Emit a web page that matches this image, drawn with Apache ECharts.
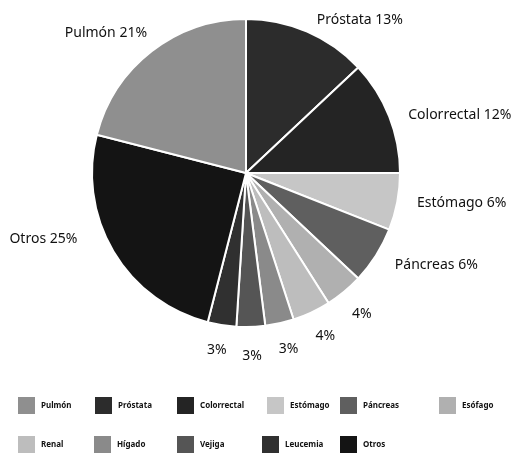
<!DOCTYPE html>
<html>
<head>
<meta charset="utf-8">
<script src="https://cdn.jsdelivr.net/npm/echarts@6/dist/echarts.min.js"></script>
<style>
html,body{margin:0;padding:0;background:#fff;}
#c{width:511px;height:453px;}
</style>
</head>
<body>
<div id="c"></div>
<script>
// Data
var categories = ['Próstata','Colorrectal','Estómago','Páncreas','Esófago','Renal','Hígado','Vejiga','Leucemia','Otros','Pulmón'];
var values = [13, 12, 6, 6, 4, 4, 3, 3, 3, 25, 21];
var legendOrder = ['Pulmón','Próstata','Colorrectal','Estómago','Páncreas','Esófago','Renal','Hígado','Vejiga','Leucemia','Otros'];
var showName = ['Próstata','Colorrectal','Estómago','Páncreas','Otros','Pulmón'];

// Styles / layout (not data)
var colors = {
  'Pulmón':'#8f8f8f','Próstata':'#2c2c2c','Colorrectal':'#242424','Estómago':'#c6c6c6',
  'Páncreas':'#5f5f5f','Esófago':'#b0b0b0','Renal':'#bdbdbd','Hígado':'#8a8a8a',
  'Vejiga':'#555555','Leucemia':'#303030','Otros':'#141414'
};
// label nudges [dx, dy] per category (same order as categories)
var labelNudge = [[-5,1],[-3,4],[-3,-1],[-2,2],[-10,12],[-11,11],[-13,12],[-18,15],[16,11],[-15,-20],[13,-7]];
var legendPos = [[16,395],[93,395],[175,395],[265,395],[338,395],[437,395],
                 [16,434],[92,434],[175,434],[260,434],[338,434]];

var chart = echarts.init(document.getElementById('c'), null, {renderer:'canvas'});
var legends = legendOrder.map(function(n,i){
  return {
    data:[n], left:legendPos[i][0], top:legendPos[i][1], padding:0,
    itemWidth:19, itemHeight:19, itemGap:0, icon:'rect', selectedMode:false,
    textStyle:{fontSize:8, fontWeight:'bold', color:'#111', fontFamily:'Noto Sans'}
  };
});
chart.setOption({
  animation:false,
  color: categories.map(function(n){return colors[n];}),
  legend: legends,
  series:[{
    type:'pie',
    center:[246,173],
    radius:154,
    startAngle:90,
    clockwise:true,
    avoidLabelOverlap:false,
    itemStyle:{borderColor:'#fff', borderWidth:2},
    label:{
      show:true, position:'outside', color:'#111', fontSize:14,
      fontFamily:'Noto Sans',
      formatter:function(p){ return (showName.indexOf(p.name)>=0 ? p.name+' ' : '') + p.value + '%'; }
    },
    labelLine:{show:false, length:14, length2:4},
    labelLayout:function(p){ var n = labelNudge[p.dataIndex]; return {dx:n[0], dy:n[1]}; },
    emphasis:{disabled:true},
    data: categories.map(function(n,i){ return {name:n, value:values[i], itemStyle:{color:colors[n]}}; })
  }]
});
</script>
</body>
</html>
